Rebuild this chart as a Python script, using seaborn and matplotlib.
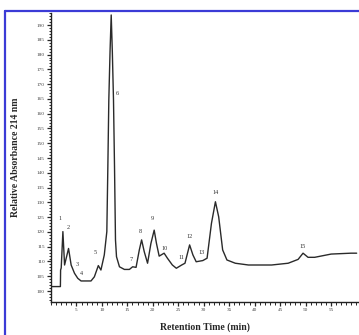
import matplotlib
matplotlib.use('Agg')
import matplotlib.pyplot as plt
from matplotlib.ticker import MultipleLocator
import seaborn as sns
import pandas as pd

# chromatogram trace
retention_time = [0.0, 1.85, 1.89, 2.01, 2.34, 2.67, 3.45, 3.96, 4.62, 5.26, 5.91, 7.86,
                  8.52, 9.30, 9.81, 10.47, 10.97, 11.17, 11.36, 11.60, 11.83, 12.05, 12.28,
                  12.48, 12.67, 12.87, 13.45, 14.42, 15.40, 16.04, 16.71, 17.35, 17.80,
                  18.32, 18.97, 19.63, 20.27, 20.72, 21.25, 22.22, 22.87, 23.84, 24.62,
                  25.67, 26.32, 27.23, 27.88, 28.52, 29.82, 30.66, 31.52, 32.30, 32.94,
                  33.72, 34.56, 36.20, 38.79, 43.33, 46.59, 48.54, 49.51, 50.49, 51.79,
                  55.03, 58.93, 60.04]
absorbance = [101.5, 101.5, 107.1, 107.8, 120.1, 108.8, 114.4, 108.8, 106.0, 104.3, 103.4, 103.4,
              104.8, 108.6, 107.1, 112.2, 120.1, 142.0, 164.6, 181.0, 193.4, 181.0, 164.6,
              142.0, 117.3, 111.6, 108.2, 107.3, 107.3, 108.2, 108.0, 113.9, 117.3,
              113.3, 109.4, 116.1, 120.6, 116.1, 111.8, 112.8, 111.1, 108.8, 107.7,
              108.8, 109.4, 115.6, 112.2, 109.9, 110.3, 111.1, 122.9, 130.2, 125.1,
              113.9, 110.5, 109.4, 108.8, 108.8, 109.4, 110.7, 112.8, 111.4, 111.4,
              112.5, 112.8, 112.8]

peak_names = [str(i) for i in range(1, 16)]
peak_label_x = [1.70, 3.45, 5.13, 5.91, 8.64, 13.06, 15.79, 17.54, 19.88, 22.22,
                25.54, 27.29, 29.63, 32.36, 49.51]
peak_label_y = [124.4, 121.4, 109.0, 106.0, 113.1, 167.0, 110.8, 120.0, 124.4, 114.5,
                111.5, 118.3, 112.9, 133.2, 114.9]

df = pd.DataFrame({'time': retention_time, 'abs': absorbance})

sns.set_style('ticks')
plt.rcParams['font.family'] = ['Liberation Serif', 'DejaVu Serif']

fig = plt.figure(figsize=(3.59, 3.35), dpi=100)
ax = fig.add_axes([0.142, 0.10, 0.858, 0.861])

sns.lineplot(data=df, x='time', y='abs', sort=False, estimator=None,
             color='#2a2a2a', linewidth=1.0, ax=ax)

for name, px, py in zip(peak_names, peak_label_x, peak_label_y):
    ax.text(px, py, name, fontsize=4.5, ha='center', va='center', color='#333333')

ax.set_xlim(0, 60.5)
ax.set_ylim(96.45, 194.05)
ax.xaxis.set_major_locator(MultipleLocator(5))
ax.xaxis.set_minor_locator(MultipleLocator(1))
ax.yaxis.set_major_locator(MultipleLocator(5))
ax.yaxis.set_minor_locator(MultipleLocator(1))
ax.set_xticks(range(5, 60, 5))
ax.tick_params(axis='both', which='major', length=3, width=0.9, labelsize=3.8,
               labelcolor='#444444', pad=1.5)
ax.tick_params(axis='both', which='minor', length=1.8, width=0.7)
sns.despine(ax=ax)
for s in ['left', 'bottom']:
    ax.spines[s].set_linewidth(1.0)
    ax.spines[s].set_color('#222222')

ax.set_xlabel('Retention Time (min)', fontsize=7, fontweight='bold', labelpad=8)
ax.set_ylabel('Relative Absorbance 214 nm', fontsize=7, fontweight='bold', labelpad=12)

# blue frame at the left and top of the picture
fig.add_artist(plt.Line2D([0.015, 0.015], [0, 0.967], transform=fig.transFigure,
                          color='#3b3bd6', linewidth=1.6))
fig.add_artist(plt.Line2D([0.015, 1], [0.967, 0.967], transform=fig.transFigure,
                          color='#3b3bd6', linewidth=1.6))

fig.savefig('out.png', dpi=100)
